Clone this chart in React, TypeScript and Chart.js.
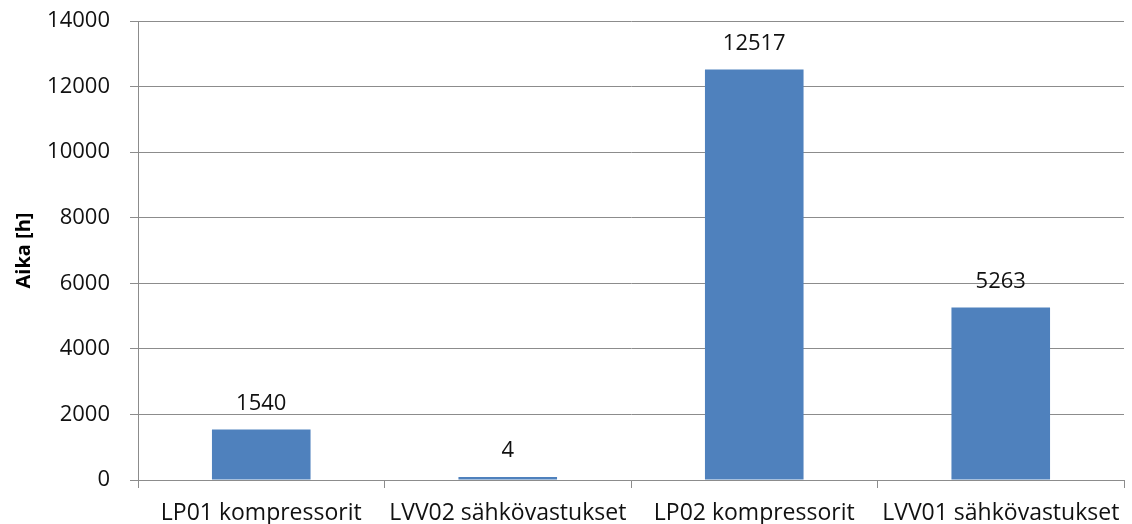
import React, { useEffect, useRef } from "react";
import { Chart, registerables } from "chart.js";

Chart.register(...registerables);

const categories = ["LP01 kompressorit", "LVV02 sähkövastukset", "LP02 kompressorit", "LVV01 sähkövastukset"];
const hours = [1540, 4, 12517, 5263];
const yTicks = [0, 2000, 4000, 6000, 8000, 10000, 12000, 14000];
const yTitle = "Aika [h]";

const FONT = "'Open Sans', 'Noto Sans', sans-serif";
const GRID = "#8c8c8c";

const valueLabels = {
  id: "valueLabels",
  afterDatasetsDraw(chart: any) {
    const ctx = chart.ctx;
    const meta = chart.getDatasetMeta(0);
    ctx.save();
    ctx.font = `22px ${FONT}`;
    ctx.fillStyle = "#111";
    ctx.textAlign = "center";
    ctx.textBaseline = "middle";
    meta.data.forEach((bar: any, i: number) => {
      ctx.fillText(String(chart.data.datasets[0].data[i]), bar.x, bar.y - 26);
    });
    ctx.restore();
  },
};

export default function App() {
  const ref = useRef<HTMLCanvasElement>(null);
  useEffect(() => {
    if (!ref.current) return;
    const chart = new Chart(ref.current, {
      type: "bar",
      data: {
        labels: categories,
        datasets: [
          {
            data: hours,
            backgroundColor: "#4F81BD",
            borderWidth: 0,
            categoryPercentage: 1,
            barPercentage: 0.4,
            minBarLength: 3,
          },
        ],
      },
      options: {
        animation: false,
        responsive: false,
        devicePixelRatio: 1,
        layout: { padding: { top: 21, right: 8, bottom: 0, left: 0 } },
        plugins: { legend: { display: false }, tooltip: { enabled: false } },
        scales: {
          x: {
            grid: { drawOnChartArea: false, drawTicks: true, tickLength: 8, color: GRID, offset: true },
            border: { color: GRID, width: 1 },
            ticks: { color: "#111", font: { family: FONT, size: 23 }, padding: 12, maxRotation: 0, autoSkip: false },
            afterFit(scale: any) {
              scale.height = 44;
              scale.paddingLeft = 0;
              scale.paddingRight = 0;
            },
          },
          y: {
            min: 0,
            max: 14000,
            afterBuildTicks(scale: any) {
              scale.ticks = yTicks.map((v) => ({ value: v }));
            },
            grid: { color: GRID, tickLength: 8, drawTicks: true },
            border: { color: GRID, width: 1 },
            ticks: {
              color: "#111",
              font: { family: FONT, size: 22 },
              padding: 20,
              callback: (v: any) => String(v),
            },
            title: {
              display: true,
              text: yTitle,
              color: "#000",
              font: { family: FONT, size: 20, weight: "bold" },
              padding: { top: 12, bottom: 0 },
            },
            afterFit(scale: any) {
              scale.width = 138;
              scale.paddingTop = 0;
              scale.paddingBottom = 0;
            },
          },
        },
      },
      plugins: [valueLabels],
    });
    return () => chart.destroy();
  }, []);
  return (
    <div style={{ position: "fixed", left: 0, top: 0, width: 1132, height: 524, background: "#fff" }}>
      <canvas ref={ref} width={1132} height={524} style={{ width: 1132, height: 524 }} />
    </div>
  );
}
